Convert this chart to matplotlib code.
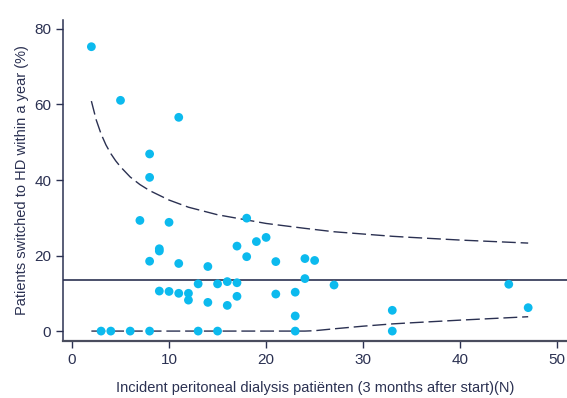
"""Funnel plot: share of incident PD patients switched to HD within a year, per centre."""

import matplotlib

matplotlib.use("Agg")
import matplotlib.pyplot as plt

plt.rcParams["font.family"] = ["Liberation Sans", "DejaVu Sans"]

INK = "#2b3152"
DOT = "#0cbaee"

# centres: number of incident PD patients and % switched to HD
patients = [
    2, 5, 11, 8, 8, 7, 10, 18, 9, 9, 8, 11, 14, 17, 18, 19, 20, 21, 24, 25,
    24, 27, 13, 15, 16, 17, 9, 10, 11, 12, 12, 14, 16, 17, 21, 23, 23, 33,
    45, 47,
    3, 4, 6, 8, 13, 15, 23, 33,
]
switched_pct = [
    75.3, 61.1, 56.6, 46.9, 40.7, 29.3, 28.8, 29.9, 21.8, 21.2, 18.5, 17.9,
    17.1, 22.5, 19.7, 23.7, 24.8, 18.4, 19.2, 18.7, 13.9, 12.2, 12.5, 12.5,
    13.1, 12.8, 10.6, 10.5, 10.0, 10.0, 8.2, 7.6, 6.8, 9.2, 9.8, 10.3, 4.0,
    5.5, 12.4, 6.2,
    0, 0, 0, 0, 0, 0, 0, 0,
]

# overall mean and 95% control limits
mean_pct = 13.5
limit_n = [2, 2.5, 3, 3.5, 4, 4.5, 5, 6, 7, 8, 10, 12, 15, 20, 24, 25, 27,
           30, 33, 35, 40, 47]
upper_pct = [60.9, 55.9, 52.2, 49.3, 47.0, 45.1, 43.5, 40.8, 38.8, 37.2,
             34.7, 32.8, 30.8, 28.5, 27.2, 26.9, 26.3, 25.7, 25.1, 24.8,
             24.1, 23.3]
lower_pct = [0, 0, 0, 0, 0, 0, 0, 0, 0, 0,
             0, 0, 0, 0, 0, 0.1, 0.6, 1.3, 1.9, 2.2, 2.9, 3.8]

fig = plt.figure(figsize=(5.67, 3.98), dpi=100)
ax = fig.add_axes([0.111, 0.143, 0.889, 0.807])

dash = (0, (10, 3.5))
ax.axhline(mean_pct, color=INK, linewidth=1.2, zorder=2)
ax.plot(limit_n, upper_pct, color=INK, linewidth=1.0, linestyle=dash, zorder=2)
ax.plot(limit_n, lower_pct, color=INK, linewidth=1.0, linestyle=dash, zorder=2)
ax.scatter(patients, switched_pct, s=40, color=DOT, edgecolors="none", zorder=3)

ax.set_xlim(-0.93, 51.0)
ax.set_ylim(-2.65, 82.4)
ax.set_xticks([0, 10, 20, 30, 40, 50])
ax.set_yticks([0, 20, 40, 60, 80])

for side in ("top", "right"):
    ax.spines[side].set_visible(False)
ax.spines["left"].set_color(INK)
ax.spines["bottom"].set_color("#4a4d5e")
ax.spines["left"].set_linewidth(1.1)
ax.spines["bottom"].set_linewidth(1.6)
ax.tick_params(colors=INK, labelcolor=INK, labelsize=11, length=5, width=1)

ax.set_xlabel("Incident peritoneal dialysis patiënten (3 months after start)(N)",
              color=INK, fontsize=10.5, labelpad=10)
ax.set_ylabel("Patients switched to HD within a year (%)", color=INK, fontsize=10.5,
              labelpad=4)

fig.savefig("out.png", dpi=100)
plt.close(fig)
